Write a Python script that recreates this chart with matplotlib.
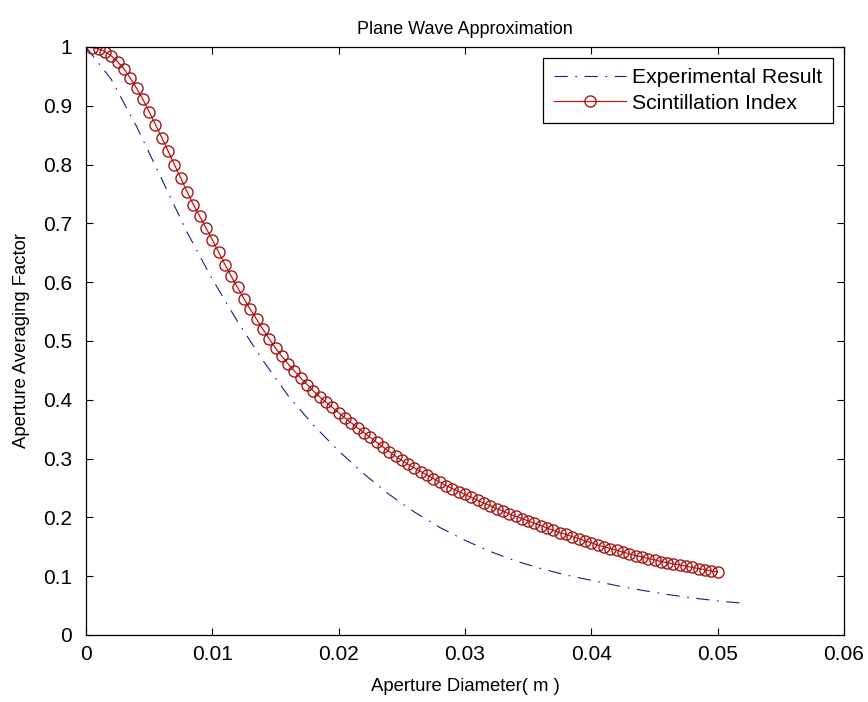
import numpy as np
import matplotlib
matplotlib.use("Agg")
import matplotlib.pyplot as plt

plt.rcParams['font.family'] = ['Liberation Sans', 'DejaVu Sans']
plt.rcParams['lines.scale_dashes'] = False

# ---- data ----
title = "Plane Wave Approximation"
xlabel = "Aperture Diameter( m )"
ylabel = "Aperture Averaging Factor"
legend_labels = ["Experimental Result", "Scintillation Index"]

x_ticks = [0, 0.01, 0.02, 0.03, 0.04, 0.05, 0.06]
x_tick_labels = ["0", "0.01", "0.02", "0.03", "0.04", "0.05", "0.06"]
y_ticks = [0, 0.1, 0.2, 0.3, 0.4, 0.5, 0.6, 0.7, 0.8, 0.9, 1.0]
y_tick_labels = ["0", "0.1", "0.2", "0.3", "0.4", "0.5", "0.6", "0.7", "0.8", "0.9", "1"]

# Experimental result (dash-dot), sampled every 0.002 m
exp_diam = [0.000, 0.002, 0.004, 0.006, 0.008, 0.010, 0.012, 0.014, 0.016,
            0.018, 0.020, 0.022, 0.024, 0.026, 0.028, 0.030, 0.032, 0.034,
            0.036, 0.038, 0.040, 0.042, 0.044, 0.046, 0.048, 0.050, 0.052]
exp_factor = [1.000, 0.945, 0.865, 0.775, 0.685, 0.605, 0.533, 0.467, 0.407,
              0.357, 0.313, 0.274, 0.239, 0.209, 0.183, 0.161, 0.142, 0.126,
              0.113, 0.102, 0.093, 0.084, 0.076, 0.069, 0.063, 0.058, 0.054]

# Scintillation index curve (circles), 100 samples 0.0005 .. 0.05 m
sci_diam = np.round(np.arange(1, 101) * 0.0005, 4)
sci_factor = [
    0.999, 0.997, 0.992, 0.985, 0.975, 0.963, 0.947, 0.930, 0.911, 0.890,
    0.868, 0.846, 0.823, 0.800, 0.777, 0.754, 0.732, 0.712, 0.692, 0.672,
    0.651, 0.630, 0.610, 0.591, 0.572, 0.554, 0.537, 0.520, 0.504, 0.488,
    0.474, 0.461, 0.449, 0.437, 0.426, 0.415, 0.405, 0.396, 0.387, 0.378,
    0.369, 0.361, 0.352, 0.344, 0.336, 0.328, 0.320, 0.312, 0.304, 0.297,
    0.290, 0.284, 0.278, 0.272, 0.266, 0.260, 0.254, 0.249, 0.244, 0.239,
    0.234, 0.229, 0.224, 0.220, 0.215, 0.211, 0.206, 0.202, 0.198, 0.194,
    0.190, 0.186, 0.182, 0.178, 0.174, 0.171, 0.167, 0.164, 0.160, 0.157,
    0.153, 0.150, 0.147, 0.144, 0.141, 0.138, 0.135, 0.133, 0.130, 0.128,
    0.125, 0.123, 0.121, 0.119, 0.117, 0.115, 0.113, 0.111, 0.109, 0.107,
]

# ---- figure ----
fig = plt.figure(figsize=(8.68, 7.02), dpi=100, facecolor='white')
ax = fig.add_axes([86/868, 67/702, 758/868, 588/702])

ax.plot(exp_diam, exp_factor, color='#1c1c80', linewidth=0.8,
        linestyle=(0, (9.5, 5.5, 1.2, 5.5)), label=legend_labels[0])
ax.plot(sci_diam, sci_factor, color='#cc1111', linewidth=0.9,
        marker='o', markersize=8, markerfacecolor='none',
        markeredgecolor='#a31515', markeredgewidth=1.0, label=legend_labels[1])

ax.set_xlim(0, 0.06)
ax.set_ylim(0, 1)
ax.set_xticks(x_ticks)
ax.set_xticklabels(x_tick_labels)
ax.set_yticks(y_ticks)
ax.set_yticklabels(y_tick_labels)

ax.tick_params(direction='in', length=5, width=0.8, top=True, right=True,
               colors='black')
ax.tick_params(axis='x', pad=7, labelsize=15)
ax.tick_params(axis='y', pad=10, labelsize=15)
for s in ax.spines.values():
    s.set_linewidth(0.9)
    s.set_color('black')

ax.set_title(title, fontsize=13, pad=9)
ax.set_xlabel(xlabel, fontsize=13.3, labelpad=10)
ax.set_ylabel(ylabel, fontsize=13.3, labelpad=9)

leg = ax.legend(loc='upper right', fontsize=15.3, frameon=True, fancybox=False,
                edgecolor='black', framealpha=1, borderaxespad=0.5,
                handlelength=3.4, handletextpad=0.3, labelspacing=0.3,
                borderpad=0.5)
leg.get_frame().set_linewidth(0.9)

fig.savefig("out.png", dpi=100, facecolor='white')
